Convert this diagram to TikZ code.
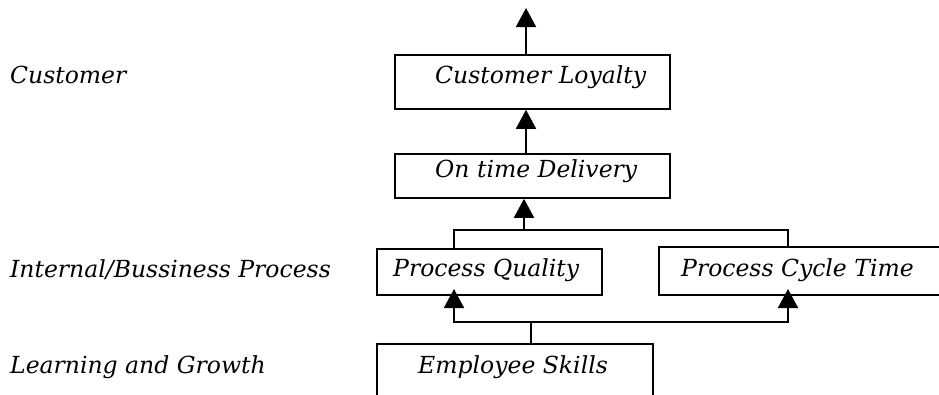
\documentclass[tikz,border=0pt]{standalone}
\usepackage{fontspec}
\setmainfont{DejaVu Serif}
\usetikzlibrary{arrows.meta}
\begin{document}
\begin{tikzpicture}[x=1pt,y=-1pt,
  box/.style={draw,line width=1.8pt,inner sep=0pt,anchor=north west},
  lbl/.style={anchor=base west,inner sep=0pt,font=\fontsize{23.5}{28}\selectfont\itshape},
  conn/.style={line width=1.8pt},
  arr/.style={conn,-{Triangle[width=20pt,length=19pt]}}]
\useasboundingbox (0,0) rectangle (939,394);
\begin{scope}
\clip (0,0) rectangle (939,394);
% boxes
\node[box,minimum width=275pt,minimum height=54pt] (cl) at (394,54) {};
\node[box,minimum width=275pt,minimum height=44pt] (otd) at (394,153) {};
\node[box,minimum width=225pt,minimum height=46pt] (pq) at (376,248) {};
\node[box,minimum width=300pt,minimum height=48pt] (pct) at (658,246) {};
\node[box,minimum width=276pt,minimum height=80pt] (es) at (376,343) {};
\end{scope}
% texts
\node[lbl] (tcust) at (10,83) {Customer};
\node[lbl] (tint) at (10,277) {Internal/Bussiness Process};
\node[lbl] (tlearn) at (10,373) {Learning and Growth};
\node[lbl] (tcl) at (435,83) {Customer Loyalty};
\node[lbl] (totd) at (435,177) {On time Delivery};
\node[lbl] (tpq) at (393,276) {Process Quality};
\node[lbl] (tpct) at (681,276) {Process Cycle Time};
\node[lbl] (tes) at (418,373) {Employee Skills};
% helper coordinates
\coordinate (top) at (526,8);
\coordinate (xl) at (454,0);
\coordinate (xr) at (788,0);
\coordinate (jA) at (524,230);
\coordinate (jB) at (531,322);
\coordinate (tipL) at (454,289);
\coordinate (tipR) at (788,289);
% connectors
\draw[arr] (cl.north -| top) -- (top);
\draw[arr] (otd.north -| top) -- (cl.south -| top);
\draw[conn] (pq.north -| xl) |- (jA) -| (pct.north -| xr);
\draw[arr] (jA) -- (otd.south -| jA);
\draw[conn] (es.north -| jB) -- (jB);
\draw[arr] (jB) -| (tipL);
\draw[arr] (jB) -| (tipR);
\end{tikzpicture}
\end{document}
